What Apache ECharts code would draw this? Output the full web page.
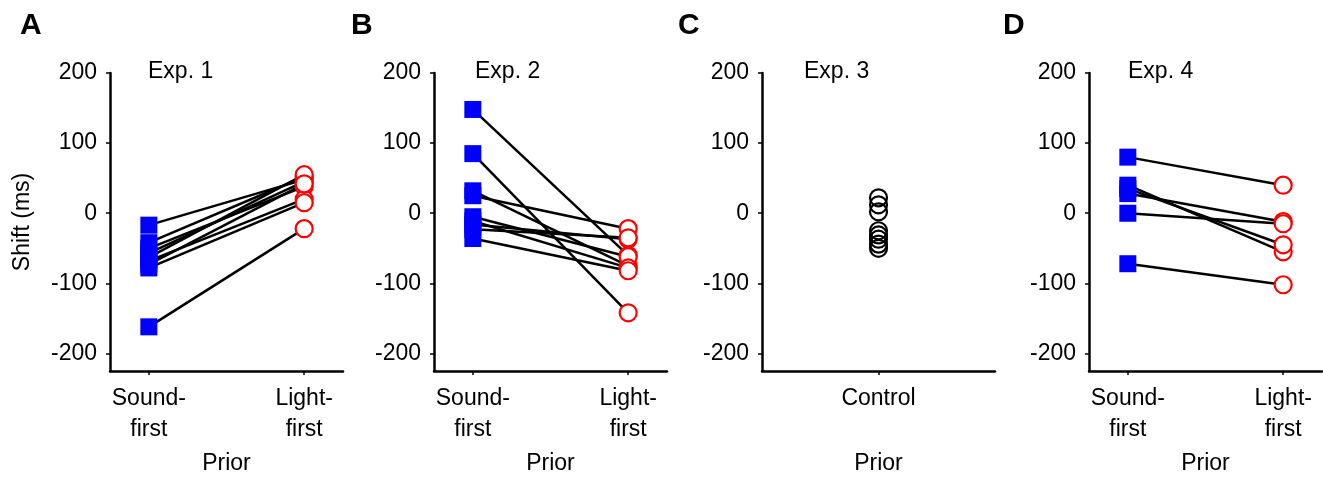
<!DOCTYPE html>
<html>
<head>
<meta charset="utf-8">
<script src="https://cdn.jsdelivr.net/npm/echarts@6/dist/echarts.min.js"></script>
<style>
  html, body { margin: 0; padding: 0; background: #fff; }
  #chart { width: 1323px; height: 480px; }
</style>
</head>
<body>
<div id="chart"></div>
<script>
// data (shift in ms)
var panelLetters = ['A', 'B', 'C', 'D'];
var expNames = ['Exp. 1', 'Exp. 2', 'Exp. 3', 'Exp. 4'];
var priorLabels = ['Sound-\nfirst', 'Light-\nfirst'];
var controlLabel = 'Control';
var yTicks = [-200, -100, 0, 100, 200];

var exp1Sound = [-17, -42, -50, -57, -63, -68, -73, -78, -162];
var exp1Light = [48, 52, 38, 45, 55, 20, 42, 15, -22];

var exp2Sound = [148, 85, 32, 25, -5, -11, -16, -23, -36];
var exp2Light = [-60, -142, -75, -22, -62, -78, -37, -35, -82];

var exp3Control = [22, 12, 2, -25, -31, -37, -44, -50];

var exp4Sound = [80, 40, 35, 28, 0, -72];
var exp4Light = [40, -55, -45, -12, -15, -102];

var font = '"Liberation Sans", Arial, sans-serif';
var chart = echarts.init(document.getElementById('chart'));

var gridLeft = [110, 434, 762, 1089];
var grids = gridLeft.map(function (l) {
  return { left: l, top: 73, width: 233, height: 301 };
});

var xAxes = [], yAxes = [], series = [];

function addPanel(i, paired, sound, light, control) {
  var isControl = !paired;
  xAxes.push({
    gridIndex: i,
    type: 'value',
    min: isControl ? 0.5 : 0.75,
    max: isControl ? 1.5 : 2.25,
    name: 'Prior',
    nameLocation: 'middle',
    nameGap: 81,
    nameTextStyle: { fontSize: 23, color: '#000', fontFamily: font },
    axisLine: { onZero: false, lineStyle: { color: '#000', width: 2.5 } },
    axisTick: { show: true, length: 4, lineStyle: { color: '#000', width: 1.5 },
      customValues: isControl ? [1] : [1, 2] },
    axisLabel: {
      customValues: isControl ? [1] : [1, 2],
      margin: 12, fontSize: 23, lineHeight: 31, color: '#000', fontFamily: font,
      formatter: function (v) {
        if (isControl) return controlLabel;
        return priorLabels[Math.round(v) - 1];
      }
    },
    splitLine: { show: false }
  });
  yAxes.push({
    gridIndex: i,
    type: 'value',
    min: -225,
    max: 200,
    name: i === 0 ? 'Shift (ms)' : '',
    nameLocation: 'middle',
    nameGap: 76,
    nameTextStyle: { fontSize: 23, color: '#000', fontFamily: font },
    axisLine: { show: true, onZero: false, lineStyle: { color: '#000', width: 2.5 } },
    axisTick: { show: true, length: 4, lineStyle: { color: '#000', width: 1.5 }, customValues: yTicks },
    axisLabel: { customValues: yTicks, margin: 13, fontSize: 23, color: '#000', fontFamily: font },
    splitLine: { show: false }
  });

  if (paired) {
    sound.forEach(function (s, j) {
      series.push({
        type: 'line', xAxisIndex: i, yAxisIndex: i, z: 2,
        data: [[1, s], [2, light[j]]],
        symbol: 'none', silent: true,
        lineStyle: { color: '#000', width: 2.5 }
      });
    });
    series.push({
      type: 'scatter', xAxisIndex: i, yAxisIndex: i, z: 4,
      data: sound.map(function (v) { return [1, v]; }),
      symbol: 'rect', symbolSize: 17,
      itemStyle: { color: '#0000ff', opacity: 1 }
    });
    series.push({
      type: 'scatter', xAxisIndex: i, yAxisIndex: i, z: 4,
      data: light.map(function (v) { return [2, v]; }),
      symbol: 'circle', symbolSize: 17,
      itemStyle: { color: '#fff', borderColor: '#ff0000', borderWidth: 2.2, opacity: 1 }
    });
  } else {
    series.push({
      type: 'scatter', xAxisIndex: i, yAxisIndex: i, z: 4,
      data: control.map(function (v) { return [1, v]; }),
      symbol: 'circle', symbolSize: 17,
      itemStyle: { color: 'rgba(0,0,0,0)', borderColor: '#000', borderWidth: 2.2, opacity: 1 }
    });
  }
}

addPanel(0, true, exp1Sound, exp1Light);
addPanel(1, true, exp2Sound, exp2Light);
addPanel(2, false, null, null, exp3Control);
addPanel(3, true, exp4Sound, exp4Light);

var letterLeft = [20, 351, 678, 1003];
var expLeft = [148, 475, 804, 1128];
var titles = [];
panelLetters.forEach(function (t, i) {
  titles.push({ text: t, left: letterLeft[i], top: 11, padding: 0,
    textStyle: { fontSize: 30, fontWeight: 'bold', color: '#000', fontFamily: font } });
  titles.push({ text: expNames[i], left: expLeft[i], top: 60, padding: 0,
    textStyle: { fontSize: 23, fontWeight: 'normal', color: '#000', fontFamily: font } });
});

chart.setOption({
  animation: false,
  backgroundColor: '#fff',
  textStyle: { fontFamily: font },
  title: titles,
  grid: grids,
  xAxis: xAxes,
  yAxis: yAxes,
  series: series
});
</script>
</body>
</html>
